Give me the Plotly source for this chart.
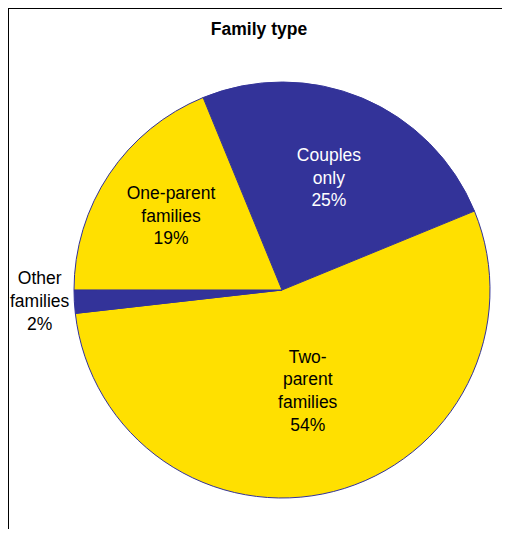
import plotly.graph_objects as go

# Data
categories = ["Couples<br>only", "Two-<br>parent<br>families", "Other<br>families", "One-parent<br>families"]
values = [25.0, 54.4, 1.8, 18.8]
colors = ["#333399", "#FFE000", "#333399", "#FFE000"]
text_colors = ["#FFFFFF", "#000000", "#000000", "#000000"]
text_positions = ["inside", "inside", "none", "inside"]

# page body has an 8px margin on every side: keep the page inside the window (no scrollbars)
OFF = 8
W, H = 510 - 2 * OFF, 537 - 2 * OFF
cx, cy, r = 282 - OFF, 290 - OFF, 208
FONT = "Liberation Sans, Arial, sans-serif"
FS = 17.5

fig = go.Figure(go.Pie(
    labels=categories,
    values=values,
    sort=False,
    direction="clockwise",
    rotation=-22.3,
    marker=dict(colors=colors, line=dict(color="#333399", width=1)),
    texttemplate="%{label}<br>%{percent:.0%}",
    textposition=text_positions,
    insidetextorientation="horizontal",
    insidetextfont=dict(color=text_colors, size=FS, family=FONT),
    domain=dict(x=[(cx - r) / W, (cx + r) / W], y=[(H - cy - r) / H, (H - cy + r) / H]),
    showlegend=False,
    hoverinfo="label+percent",
))

# outside label for the thin "Other families" slice
i_other = 2
pct_other = round(100 * values[i_other] / sum(values))
fig.add_annotation(
    text=f"{categories[i_other]}<br>{pct_other}%",
    xref="paper", yref="paper", x=(40 - OFF) / W, y=1 - (301 - OFF) / H,
    xanchor="center", yanchor="middle", showarrow=False, align="center",
    font=dict(size=FS, family=FONT, color="#000000"),
)

fig.update_layout(
    width=W, height=H,
    margin=dict(l=0, r=0, t=0, b=0, autoexpand=False),
    paper_bgcolor="white",
    font=dict(family=FONT, size=FS, color="#000000"),
    title=dict(text="<b>Family type</b>", x=(259 - OFF) / W, xanchor="center",
               y=1 - (29 - OFF) / H, yanchor="middle", font=dict(size=FS, family=FONT)),
    shapes=[
        dict(type="line", xref="paper", yref="paper", x0=0, x1=0, y0=0, y1=1,
             line=dict(color="#000000", width=2)),
        dict(type="line", xref="paper", yref="paper", x0=0, x1=1, y0=1, y1=1,
             line=dict(color="#000000", width=2)),
    ],
)

fig.write_html("out.html")
